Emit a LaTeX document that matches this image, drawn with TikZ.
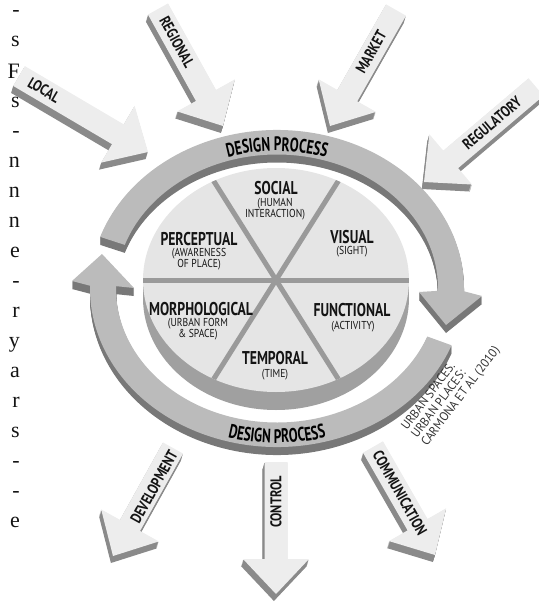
\documentclass[tikz,border=0pt]{standalone}
\usepackage{fontspec}
\setmainfont{Liberation Serif}
\newfontfamily\labfont[FakeStretch=0.74]{PT Sans}
\newfontfamily\subfont[FakeStretch=0.84]{PT Sans}
\newfontfamily\citefont[FakeStretch=0.95]{PT Sans}
\newfontfamily\arrfont[FakeStretch=0.80]{PT Sans}
\newfontfamily\dpfont[FakeStretch=0.68]{PT Sans}
\usetikzlibrary{calc,decorations.text}
\definecolor{arrface}{HTML}{EDEDED}
\definecolor{arrside}{HTML}{8A8A8A}
\definecolor{ringface}{HTML}{BBBBBB}
\definecolor{ringside}{HTML}{787878}
\definecolor{pieface}{HTML}{E5E5E5}
\definecolor{pieside}{HTML}{A0A0A0}
\definecolor{spokecol}{HTML}{9A9A9A}
\definecolor{txt}{HTML}{141414}

% block arrow: name, tail, tip
\newcommand\mkarrow[3]{%
  \coordinate (#1T) at (#2);
  \coordinate (#1P) at (#3);
  \coordinate (#1B) at ($(#1P)!35pt!(#1T)$);
  \coordinate (#1a) at ($(#1T)!11.5pt!90:(#1P)$);
  \coordinate (#1b) at ($(#1B)!11.5pt!90:(#1P)$);
  \coordinate (#1c) at ($(#1B)!33pt!90:(#1P)$);
  \coordinate (#1d) at ($(#1B)!33pt!-90:(#1P)$);
  \coordinate (#1e) at ($(#1B)!11.5pt!-90:(#1P)$);
  \coordinate (#1f) at ($(#1T)!11.5pt!-90:(#1P)$);
  \foreach \d in {1,...,7}{%
    \fill[arrside] ([shift={(-0.3*\d,-\d)}]#1a) -- ([shift={(-0.3*\d,-\d)}]#1b) -- ([shift={(-0.3*\d,-\d)}]#1c) -- ([shift={(-0.3*\d,-\d)}]#1P) -- ([shift={(-0.3*\d,-\d)}]#1d) -- ([shift={(-0.3*\d,-\d)}]#1e) -- ([shift={(-0.3*\d,-\d)}]#1f) -- cycle;
  }
  \fill[arrface] (#1a) -- (#1b) -- (#1c) -- (#1P) -- (#1d) -- (#1e) -- (#1f) -- cycle;
}

\newcommand\ringtop[1]{\fill[#1] (100.19,-236.90) arc[start angle=161,end angle=-1,x radius=187pt,y radius=158.5pt] -- (482,-296) -- (446,-325) -- (419,-292) -- (437.98,-290.84) arc[start angle=-1,end angle=161,x radius=161pt,y radius=134pt] -- cycle;}
\newcommand\ringbot[1]{\fill[#1] (451.58,-345.30) arc[start angle=-21,end angle=-181,x radius=187pt,y radius=158.5pt] -- (72,-281) -- (102,-254) -- (134,-288) -- (116.02,-286.16) arc[start angle=-181,end angle=-21,x radius=161pt,y radius=134pt] -- cycle;}

\begin{document}
\begin{tikzpicture}[x=1pt,y=1pt,
  lab/.style={font=\labfont\bfseries\fontsize{18.5}{18.5}\selectfont, text=txt, inner sep=0pt},
  sublab/.style={font=\subfont\fontsize{11.5}{11}\selectfont, text=txt, inner sep=0pt, align=center},
  arrlab/.style={font=\arrfont\bfseries\fontsize{15.5}{15.5}\selectfont, text=txt, inner sep=0pt},
  frag/.style={font=\fontsize{22}{22}\selectfont, text=txt, inner sep=0pt, anchor=base east},
  cite/.style={font=\citefont\fontsize{12.5}{12.5}\selectfont, text=black!80, inner sep=0pt, anchor=base west, rotate=53}]
\useasboundingbox (0,0) rectangle (538,-602);

% cropped paragraph endings at the left edge
\node[frag] (f1) at (20,-17) {-};
\node[frag] (f2) at (20,-47) {s};
\node[frag] (f3) at (20,-78) {F};
\node[frag] (f4) at (20,-107) {s};
\node[frag] (f5) at (20,-137) {-};
\node[frag] (f6) at (20,-167) {n};
\node[frag] (f7) at (20,-197) {n};
\node[frag] (f8) at (20,-227) {n};
\node[frag] (f9) at (20,-257) {e};
\node[frag] (f10) at (20,-287) {-};
\node[frag] (f11) at (20,-317) {r};
\node[frag] (f12) at (20,-347) {y};
\node[frag] (f13) at (20,-377) {a};
\node[frag] (f14) at (20,-407) {r};
\node[frag] (f15) at (20,-437) {s};
\node[frag] (f16) at (20,-467) {-};
\node[frag] (f17) at (20,-497) {-};
\node[frag] (f18) at (20,-527) {e};

% external block arrows
\mkarrow{loc}{19,-76}{148,-152}
\mkarrow{reg}{158,-9}{223,-126}
\mkarrow{mkt}{396,-10}{330,-126}
\mkarrow{rgl}{536,-87}{424,-182}
\mkarrow{dev}{173,-448}{113,-556}
\mkarrow{ctl}{276,-462}{276,-594}
\mkarrow{com}{373,-447}{435,-555}

\node[arrlab, rotate=-30.5] (tlocal) at (44,-90) {LOCAL};
\node[arrlab, rotate=-61] (tregional) at (177,-42) {REGIONAL};
\node[arrlab, rotate=60.5] (tmarket) at (371,-52) {MARKET};
\node[arrlab, rotate=40] (tregulatory) at (492,-123) {REGULATORY};
\node[arrlab, rotate=61] (tdevelopment) at (154,-487) {DEVELOPMENT};
\node[arrlab, rotate=90] (tcontrol) at (276,-502) {CONTROL};
\node[arrlab, rotate=-60.5] (tcommunication) at (400,-493) {COMMUNICATION};

% ring (design process) with extrusion
\foreach \d in {1,...,8}{%
  \begin{scope}[yshift=-\d pt]
    \ringtop{ringside}
    \ringbot{ringside}
  \end{scope}
}
\ringtop{ringface}
\ringbot{ringface}

\path[decorate, decoration={text along path, text align=center,
   text={|\dpfont\bfseries\fontsize{19.5}{19.5}\selectfont|DESIGN PROCESS}}]
   (277,-288.5) ++(125:164.7pt and 137.5pt)
   arc[start angle=125, end angle=55, x radius=164.7pt, y radius=137.5pt];
\path[decorate, decoration={text along path, text align=center,
   text={|\dpfont\bfseries\fontsize{19.5}{19.5}\selectfont|DESIGN PROCESS}}]
   (277,-288.5) ++(-125:181.7pt and 154.5pt)
   arc[start angle=-125, end angle=-55, x radius=181.7pt, y radius=154.5pt];

% pie
\fill[pieside] (276,-298) ellipse[x radius=133pt, y radius=112pt];
\fill[pieside] (143,-280) rectangle (409,-298);
\fill[pieface] (276,-280) ellipse[x radius=133pt, y radius=112pt];
\begin{scope}
  \clip (276,-280) ellipse[x radius=133pt, y radius=112pt];
  \draw[spokecol, line width=5pt] (138,-280) -- (414,-280);
  \draw[spokecol, line width=5pt] (341.5,-175.9) -- (210.5,-384.1);
  \draw[spokecol, line width=5pt] (210.5,-175.9) -- (341.5,-384.1);
\end{scope}

\node[lab] (social) at (276,-188) {SOCIAL};
\node[sublab] (socialsub) at (275,-209) {(HUMAN\\INTERACTION)};
\node[lab] (perceptual) at (199,-239) {PERCEPTUAL};
\node[sublab] (perceptualsub) at (199,-259) {(AWARENESS\\OF PLACE)};
\node[lab] (visual) at (352,-237) {VISUAL};
\node[sublab] (visualsub) at (352,-252) {(SIGHT)};
\node[lab] (morph) at (201,-309) {MORPHOLOGICAL};
\node[sublab] (morphsub) at (198,-329) {(URBAN FORM\\\& SPACE)};
\node[lab] (functional) at (352,-310) {FUNCTIONAL};
\node[sublab] (functionalsub) at (353,-327) {(ACTIVITY)};
\node[lab] (temporal) at (275,-358) {TEMPORAL};
\node[sublab] (temporalsub) at (275,-375) {(TIME)};

% source
\node[cite] (c1) at (407,-431) {URBAN SPACES.};
\node[cite] (c2) at (417,-439) {URBAN PLACES:};
\node[cite] (c3) at (427,-447) {CARMONA ET AL (2010)};
\end{tikzpicture}
\end{document}
